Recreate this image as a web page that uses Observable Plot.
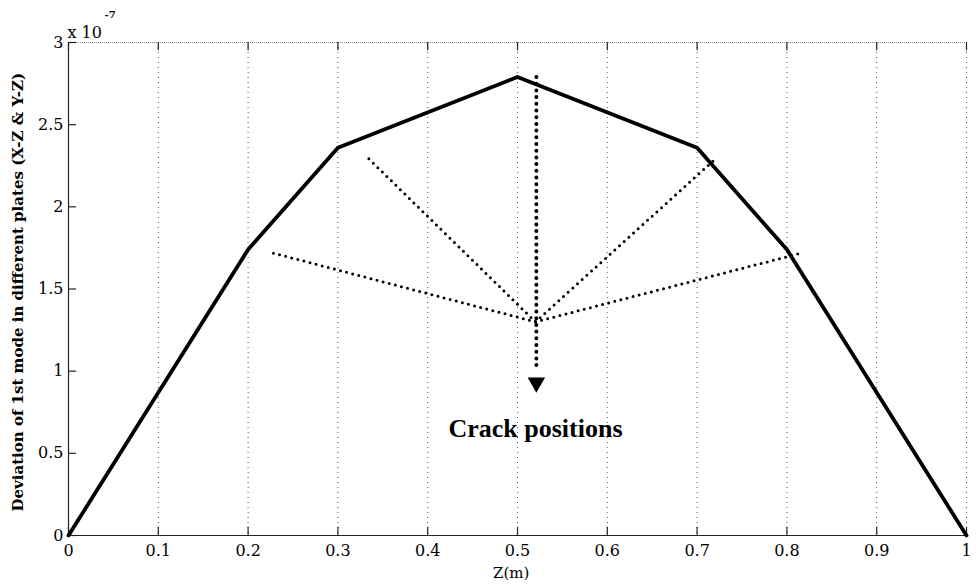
<!DOCTYPE html>
<html>
<head>
<meta charset="utf-8">
<script src="https://cdn.jsdelivr.net/npm/d3@7"></script>
<script src="https://cdn.jsdelivr.net/npm/@observablehq/plot@0.6"></script>
<style>
  html, body { margin: 0; padding: 0; background: #fff; }
  #chart svg { display: block; }
</style>
</head>
<body>
<div id="chart"></div>
<script>
// Data (y in units of 1e-7)
const zPositions = [0, 0.2, 0.3, 0.5, 0.7, 0.8, 1];
const deviation = [0, 1.74, 2.36, 2.79, 2.36, 1.74, 0];
const xTicks = [0, 0.1, 0.2, 0.3, 0.4, 0.5, 0.6, 0.7, 0.8, 0.9, 1];
const yTicks = [0, 0.5, 1, 1.5, 2, 2.5, 3];
// annotation: dotted lines from crack hub to the crack points
const hub = {x: 0.52, y: 1.30};
const crackEndsX = [0.227, 0.333, 0.718, 0.817];
const crackEndsY = [1.72, 2.30, 2.28, 1.72];
const arrowX = 0.521, arrowTop = 2.79, arrowBottom = 0.93;
const crackLabel = "Crack positions";

const line = zPositions.map((z, i) => ({z, v: deviation[i]}));
const spokes = crackEndsX.map((x, i) => ({x1: hub.x, y1: hub.y, x2: x, y2: crackEndsY[i]}));
const dvs = "'DejaVu Serif', serif";
const times = "'Liberation Serif', 'Times New Roman', serif";

const plot = Plot.plot({
  width: 976,
  height: 587,
  marginLeft: 68,
  marginRight: 10,
  marginTop: 42,
  marginBottom: 52,
  style: {fontFamily: dvs, fontSize: "16px", color: "#000", background: "#fff"},
  x: {domain: [0, 1], axis: null},
  y: {domain: [0, 3], axis: null},
  marks: [
    // vertical dotted grid
    Plot.ruleX(xTicks.slice(1), {stroke: "#555", strokeWidth: 1, strokeDasharray: "1,4"}),
    // top dotted line
    Plot.ruleY([3], {stroke: "#888", strokeWidth: 1, strokeDasharray: "1,1"}),
    // axes lines
    Plot.ruleY([0], {stroke: "#222", strokeWidth: 1.2}),
    Plot.ruleX([0], {stroke: "#222", strokeWidth: 1.2}),
    // inward ticks bottom
    Plot.ruleX(xTicks, {x: d => d, y1: 0, y2: 0.05, stroke: "#222", strokeWidth: 1.2}),
    // inward ticks top
    Plot.ruleX(xTicks, {x: d => d, y1: 3, y2: 2.95, stroke: "#222", strokeWidth: 1.2}),
    // inward ticks left
    Plot.ruleY(yTicks, {y: d => d, x1: 0, x2: 0.009, stroke: "#222", strokeWidth: 1.2}),
    // tick labels
    Plot.text(xTicks, {x: d => d, y: 0, text: d => String(d), dy: 15, fontSize: 16, fontFamily: dvs, fill: "#000"}),
    Plot.text(yTicks, {x: 0, y: d => d, text: d => String(d), dx: -5, textAnchor: "end", fontSize: 16, fontFamily: dvs, fill: "#000"}),
    // exponent label
    Plot.text(["x 10"], {x: 0, y: 3, text: d => d, dx: -1, dy: -10, textAnchor: "start", fontSize: 16, fontFamily: dvs, fill: "#000", stroke: "#fff", strokeWidth: 5, paintOrder: "stroke"}),
    Plot.text(["-7"], {x: 0, y: 3, text: d => d, dx: 36, dy: -28, textAnchor: "start", fontSize: 10, fontWeight: "bold", fontFamily: dvs, fill: "#000"}),
    // axis titles
    Plot.text(["Z(m)"], {x: 0.493, y: 0, text: d => d, dy: 38, fontSize: 15, fontFamily: dvs, fill: "#000"}),
    Plot.text(["Deviation of 1st mode in different plates (X-Z & Y-Z)"], {x: 0, y: 1.48, text: d => d, dx: -50, rotate: -90, fontSize: 15, fontWeight: "bold", fontFamily: dvs, fill: "#000"}),
    // main line
    Plot.line(line, {x: "z", y: "v", stroke: "#000", strokeWidth: 3.8, strokeLinejoin: "round"}),
    // spokes
    Plot.link(spokes, {x1: "x1", y1: "y1", x2: "x2", y2: "y2", stroke: "#000", strokeWidth: 3, strokeDasharray: "0,6.3", strokeLinecap: "round"}),
    // vertical arrow
    Plot.link([{x: arrowX, y1: arrowTop, y2: arrowBottom + 0.08}], {x1: "x", x2: "x", y1: "y1", y2: "y2", stroke: "#000", strokeWidth: 4, strokeDasharray: "0,6.7", strokeLinecap: "round"}),
    Plot.dot([{x: arrowX, y: arrowBottom}], {x: "x", y: "y", symbol: "triangle", r: 6.5, fill: "#000", rotate: 180}),
    // label
    Plot.text([crackLabel], {x: 0.52, y: 0.65, text: d => d, fontSize: 26, fontWeight: "bold", fontFamily: times, fill: "#000"})
  ]
});
document.getElementById("chart").appendChild(plot);
</script>
</body>
</html>
